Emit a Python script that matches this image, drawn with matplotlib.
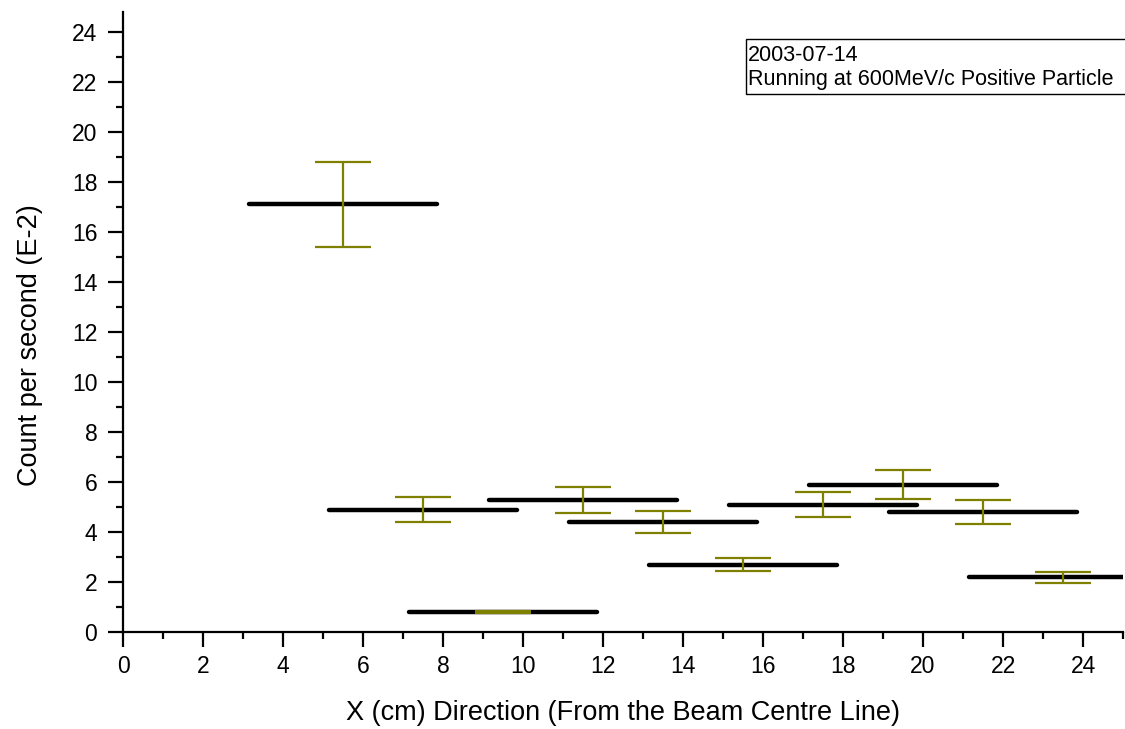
import matplotlib
matplotlib.use("Agg")
import matplotlib.pyplot as plt
from matplotlib.patches import Rectangle
from matplotlib.ticker import MultipleLocator

plt.rcParams['font.family'] = ['Liberation Sans', 'DejaVu Sans']

# ---- Data
x_pos = [5.5, 7.5, 9.5, 11.5, 13.5, 15.5, 17.5, 19.5, 21.5, 23.5]
counts = [17.1, 4.9, 0.8, 5.3, 4.4, 2.7, 5.1, 5.9, 4.8, 2.2]
count_err = [1.7, 0.5, 0.05, 0.52, 0.45, 0.27, 0.5, 0.58, 0.48, 0.22]
x_halfwidth = [2.35] * 10

date_text = "2003-07-14"
run_text = "Running at 600MeV/c Positive Particle"

COLOR_ERR = "#808000"

fig = plt.figure(figsize=(11.25, 7.29), dpi=100)
ax = fig.add_axes([123 / 1125, 1 - 632 / 729, 1000 / 1125, 620 / 729])

# horizontal bars (x extent) in black
hbar = ax.errorbar(x_pos, counts, xerr=x_halfwidth, fmt='none',
                   ecolor='black', elinewidth=3.2, capsize=0, zorder=2)
for lc in hbar[2]:
    lc.set_capstyle('round')

# vertical error bars in olive
ax.errorbar(x_pos, counts, yerr=count_err, fmt='none', ecolor=COLOR_ERR,
            elinewidth=1.6, capsize=20, capthick=1.6, zorder=3)

ax.set_xlim(0, 25)
ax.set_ylim(0, 24.8)
ax.xaxis.set_major_locator(MultipleLocator(2))
ax.xaxis.set_minor_locator(MultipleLocator(1))
ax.yaxis.set_major_locator(MultipleLocator(2))
ax.yaxis.set_minor_locator(MultipleLocator(1))

for side in ('top', 'right'):
    ax.spines[side].set_visible(False)
for side in ('left', 'bottom'):
    ax.spines[side].set_linewidth(1.6)

ax.tick_params(which='major', direction='out', length=10.5, width=1.6,
               labelsize=16.5)
ax.tick_params(which='minor', direction='out', length=5, width=1.6)
ax.tick_params(axis='x', which='major', pad=6)
ax.tick_params(axis='y', which='major', pad=8)

ax.set_xlabel("X (cm) Direction (From the Beam Centre Line)", fontsize=19.5,
              va='center')
ax.set_ylabel("Count per second (E-2)", fontsize=19.5, va='center')
ax.xaxis.set_label_coords(0.5, (632 - 713) / 620)
ax.yaxis.set_label_coords(-0.093, (632 - 345) / 620)

# note box (runs off the right edge)
ax.add_patch(Rectangle((15.575, 21.52), 12, 2.2, fill=False,
                       edgecolor='black', linewidth=1.0, clip_on=False,
                       zorder=4))
ax.text(15.63, 22.84, date_text, fontsize=15.5, clip_on=False)
ax.text(15.63, 21.88, run_text, fontsize=15.5, clip_on=False)

fig.savefig("out.png", dpi=100)
